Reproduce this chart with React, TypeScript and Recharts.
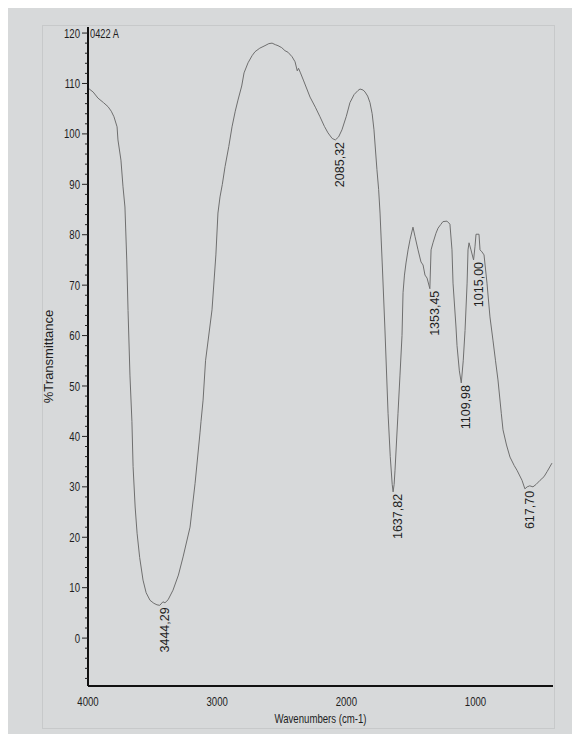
import React from 'react';
import { ComposedChart, Line, Scatter, XAxis, YAxis } from 'recharts';

// Spectrum: wavenumber (cm-1) and %Transmittance
const wavenumbers = [
  4000, 3960, 3923, 3880, 3845, 3820, 3799, 3775, 3768, 3745, 3729, 3714, 3700, 3690, 3675, 3660,
  3651, 3635, 3620, 3600, 3574, 3550, 3520, 3490, 3466, 3444.29, 3420, 3404, 3380, 3342, 3300, 3264,
  3210, 3171, 3133, 3125, 3109, 3090, 3040, 3010, 2994, 2978, 2960, 2939, 2910, 2885, 2860, 2839,
  2810, 2792, 2761, 2730, 2707, 2670, 2630, 2600, 2575, 2550, 2529, 2500, 2475, 2452, 2420, 2397,
  2380, 2370, 2355, 2330, 2281, 2240, 2204, 2170, 2142, 2110, 2085.32, 2060, 2034, 2000, 1972, 1940,
  1910, 1894, 1870, 1855, 1835, 1817, 1800, 1786, 1775, 1763, 1750, 1739, 1720, 1701, 1677, 1660,
  1645, 1637.82, 1630, 1623, 1600, 1585, 1569, 1561, 1550, 1538, 1522, 1507, 1484, 1468, 1445, 1422,
  1406, 1391, 1375, 1353.45, 1344, 1329, 1306, 1290, 1270, 1252, 1221, 1198, 1182, 1174, 1151, 1143,
  1125, 1109.98, 1095, 1081, 1065, 1058, 1050, 1035, 1015, 1004, 996, 973, 965, 950, 934, 911,
  888, 865, 845, 826, 800, 787, 760, 733, 700, 679, 640, 617.7, 600, 580, 555, 530,
  500, 470, 446, 408,
];
const transmittance = [
  109.1, 108.3, 107.1, 106.2, 105.4, 104.5, 103.4, 101.4, 98.8, 94.8, 89.5, 85.5, 75, 65, 52, 43,
  34, 26, 20.8, 16, 11.5, 9, 7.5, 6.9, 6.6, 6.5, 7.2, 7.0, 7.6, 9.5, 12.5, 16.1,
  22, 30.7, 40.7, 43, 47.2, 55, 65.1, 76, 84.3, 87.5, 90, 93.5, 97.5, 101.4, 104.5, 106.7,
  109.5, 112.1, 114.1, 115.5, 116.3, 117, 117.5, 117.9, 118, 117.7, 117.5, 117.1, 116.5, 116.2, 115.3, 114.3,
  112.5, 113.0, 112.1, 110.5, 107.3, 105.3, 103.4, 101.5, 100.2, 99.1, 98.8, 99.4, 100.8, 103.5, 106.2, 107.8,
  108.6, 108.9, 108.7, 108.3, 107.5, 106.2, 104, 100.8, 97, 92.9, 89, 84.3, 73, 61.1, 44.6, 36,
  30.5, 29, 30.5, 33.3, 44.6, 52, 60, 68.5, 72, 74.4, 77, 79, 81.5, 79.6, 77, 74.6,
  74, 72, 71.4, 69.3, 77, 78.4, 80.3, 81.3, 82, 82.6, 82.7, 82.1, 77, 70.4, 61.7, 58,
  53, 50.6, 55, 61, 70.4, 77, 78.4, 77, 75, 77.6, 80.1, 80.1, 77, 76.6, 76, 70.4,
  63.7, 59.1, 55, 51.2, 44.5, 41.3, 38.3, 35.9, 34.2, 33.3, 31.3, 29.6, 30, 30.2, 30, 30.5,
  31.3, 32, 33, 34.7,
];

// Labelled minima
const peakWavenumbers = [3444.29, 2085.32, 1637.82, 1353.45, 1109.98, 1015.0, 617.7];
const peakTransmittance = [6.5, 98.8, 29, 69.3, 50.6, 75, 29.6];
const peakLabels = ['3444,29', '2085,32', '1637,82', '1353,45', '1109,98', '1015,00', '617,70'];

// Axes
const xTicks = [4000, 3000, 2000, 1000];
const yMajorTicks = [0, 10, 20, 30, 40, 50, 60, 70, 80, 90, 100, 110, 120];
const yTicks: number[] = [];
for (let v = -8; v <= 120; v += 2) yTicks.push(v);

const spectrum = wavenumbers.map((wn, i) => ({ wn, t: transmittance[i] }));
const peaks = peakWavenumbers.map((wn, i) => ({ wn, t: peakTransmittance[i], label: peakLabels[i] }));

const SANS = "'Liberation Sans', Arial, sans-serif";
const NARROW_SCALE = 0.74;

const NarrowText = ({ x, y, anchor, size, children }: any) => (
  <g transform={`translate(${x},${y}) scale(${NARROW_SCALE},1)`}>
    <text x={0} y={0} textAnchor={anchor} dominantBaseline="central" fontFamily={SANS} fontSize={size} fill="#1e1e1e">
      {children}
    </text>
  </g>
);

const YTick = (props: any) => {
  const { x, y, payload } = props;
  const major = yMajorTicks.includes(payload.value);
  return (
    <g>
      <line x1={x - (major ? 6 : 3)} x2={x} y1={y} y2={y} stroke="#222" strokeWidth={1} />
      {major && (
        <NarrowText x={x - 8} y={y} anchor="end" size={13}>
          {payload.value}
        </NarrowText>
      )}
    </g>
  );
};

const XTick = (props: any) => {
  const { x, y, payload } = props;
  return (
    <NarrowText x={x} y={y + 15} anchor="middle" size={13}>
      {payload.value}
    </NarrowText>
  );
};

const PeakLabel = (props: any) => {
  const { cx, cy, payload } = props;
  if (cx == null || cy == null) return null;
  const x = cx + 5;
  const y = cy + 2;
  return (
    <text
      x={x}
      y={y}
      transform={`rotate(-90 ${x} ${y})`}
      textAnchor="end"
      dominantBaseline="central"
      fontFamily={SANS}
      fontSize={12.5}
      fill="#1e1e1e"
    >
      {payload.label}
    </text>
  );
};

export default function App() {
  return (
    <div style={{ position: 'relative', width: 572, height: 726, background: '#d7d9da', overflow: 'hidden' }}>
      <div
        style={{
          position: 'absolute',
          left: 34,
          top: 17,
          width: 511,
          height: 702,
          border: '1px solid rgba(0,0,0,0.07)',
        }}
      />
      <ComposedChart width={572} height={726} margin={{ top: 19, right: 27, bottom: 18, left: 0 }}>
        <XAxis
          dataKey="wn"
          type="number"
          domain={[400, 4000]}
          reversed
          ticks={xTicks}
          interval={0}
          allowDataOverflow
          height={30}
          tickSize={0}
          tickMargin={0}
          tickLine={false}
          tick={<XTick />}
          axisLine={{ stroke: '#111', strokeWidth: 2 }}
          label={{
            content: (p: any) => {
              const vb = p.viewBox;
              return (
                <NarrowText x={vb.x + vb.width / 2} y={vb.y + 32} anchor="middle" size={13}>
                  Wavenumbers (cm-1)
                </NarrowText>
              );
            },
          }}
        />
        <YAxis
          dataKey="t"
          type="number"
          domain={[-9.5, 121.2]}
          ticks={yTicks}
          interval={0}
          allowDataOverflow
          width={80}
          tickSize={0}
          tickMargin={0}
          tickLine={false}
          tick={<YTick />}
          axisLine={{ stroke: '#111', strokeWidth: 2 }}
          label={{
            content: (p: any) => {
              const vb = p.viewBox;
              const x = 40;
              const y = vb.y + vb.height / 2;
              return (
                <text x={x} y={y} transform={`rotate(-90 ${x} ${y})`} textAnchor="middle" dominantBaseline="central" fontFamily={SANS} fontSize={13} fill="#1e1e1e">
                  %Transmittance
                </text>
              );
            },
          }}
        />
        <Line
          data={spectrum}
          dataKey="t"
          type="linear"
          stroke="#6f6f6f"
          strokeWidth={1}
          dot={false}
          activeDot={false}
          isAnimationActive={false}
        />
        <Scatter data={peaks} dataKey="t" shape={<PeakLabel />} isAnimationActive={false} />
      </ComposedChart>
      <div
        style={{
          position: 'absolute',
          left: 82,
          top: 19,
          fontFamily: SANS,
          fontSize: 12.5,
          color: '#1e1e1e',
          lineHeight: '14px',
          transform: `scaleX(${NARROW_SCALE})`,
          transformOrigin: 'left center',
          whiteSpace: 'nowrap',
        }}
      >
        0422 A
      </div>
    </div>
  );
}
